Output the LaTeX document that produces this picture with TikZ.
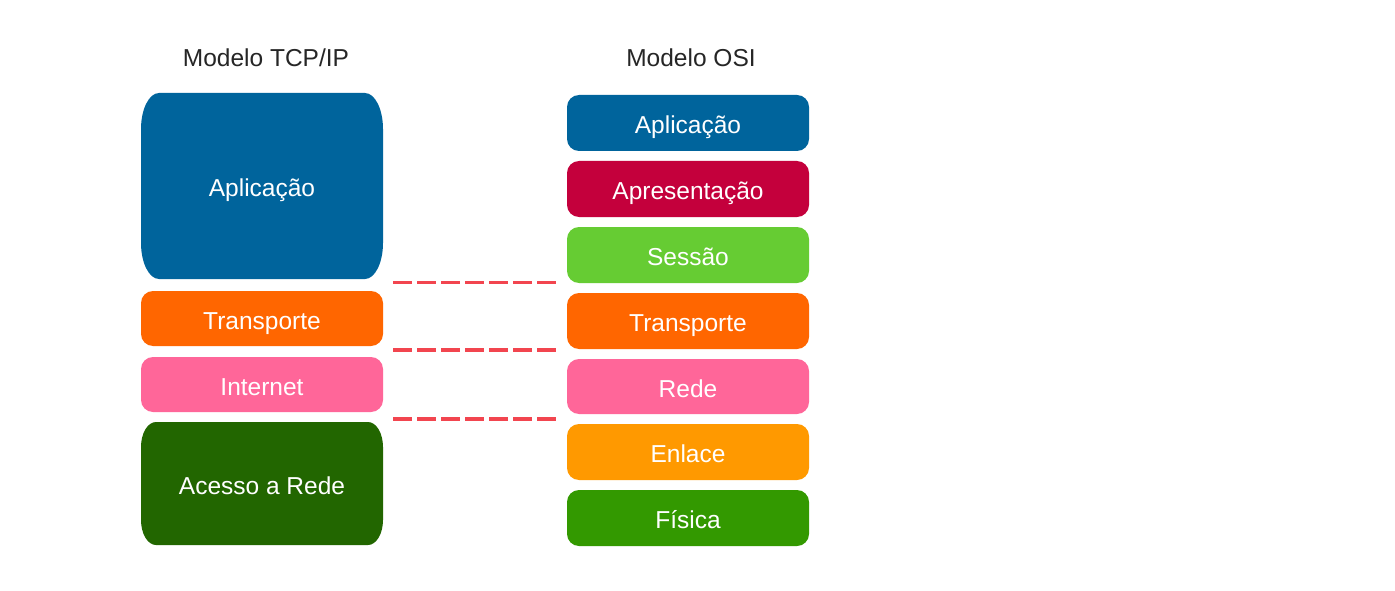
\documentclass[tikz,border=0pt]{standalone}
\usepackage{fontspec}
\setmainfont{Liberation Sans}
\definecolor{cblue}{HTML}{00649C}
\definecolor{ccrimson}{HTML}{C4003C}
\definecolor{clgreen}{HTML}{66CC33}
\definecolor{corange}{HTML}{FF6600}
\definecolor{cpink}{HTML}{FF6699}
\definecolor{camber}{HTML}{FF9900}
\definecolor{cgreen}{HTML}{339900}
\definecolor{cdgreen}{HTML}{226600}
\definecolor{cdash}{HTML}{F2454F}
\definecolor{ctitle}{HTML}{262626}
\begin{document}
\begin{tikzpicture}[x=1pt,y=-1pt,
  lbl/.style={text=white, inner sep=0pt, text height=21pt, text depth=0pt,
              font=\fontsize{24.5}{29}\selectfont},
  layer/.style={lbl, rounded corners=12pt, minimum width=242pt, minimum height=56pt},
  ttl/.style={text=ctitle, inner sep=0pt, text height=17.5pt, text depth=0pt,
              font=\fontsize{24.5}{29}\selectfont},
  link/.style={draw=cdash, line width=3.5pt, dash pattern=on 19pt off 5pt}]
\useasboundingbox (0,0) rectangle (1395,591);
\fill[white] (0,0) rectangle (1395,591);

% titles
\node[ttl] (tcptitle) at (266,57.5) {Modelo TCP/IP};
\node[ttl] (osititle) at (691,57.5) {Modelo OSI};

% TCP/IP column
\fill[cblue] (159,93) -- (365,93)
  arc[start angle=-90, end angle=0, x radius=18, y radius=36]
  -- (383,243)
  arc[start angle=0, end angle=90, x radius=18, y radius=36]
  -- (159,279)
  arc[start angle=90, end angle=180, x radius=18, y radius=36]
  -- (141,129)
  arc[start angle=180, end angle=270, x radius=18, y radius=36]
  -- cycle;
\node[lbl] (tcpapp) at (262,186) {Aplicação};

\node[layer, fill=corange, minimum height=55pt] (tcptra) at (262,318.5) {Transporte};
\node[layer, fill=cpink, minimum height=55pt] (tcpint) at (262,384.5) {Internet};

\fill[cdgreen] (156,422) -- (368,422)
  arc[start angle=-90, end angle=0, x radius=15, y radius=25]
  -- (383,520)
  arc[start angle=0, end angle=90, x radius=15, y radius=25]
  -- (156,545)
  arc[start angle=90, end angle=180, x radius=15, y radius=25]
  -- (141,447)
  arc[start angle=180, end angle=270, x radius=15, y radius=25]
  -- cycle;
\node[lbl] (tcpacc) at (262,484) {Acesso a Rede};

% OSI column
\node[layer, fill=cblue]    (osiapp) at (688,123) {Aplicação};
\node[layer, fill=ccrimson] (osiapr) at (688,189) {Apresentação};
\node[layer, fill=clgreen]  (osises) at (688,255) {Sessão};
\node[layer, fill=corange]  (ositra) at (688,321) {Transporte};
\node[layer, fill=cpink, minimum height=55pt] (osired) at (688,386.5) {Rede};
\node[layer, fill=camber]   (osienl) at (688,452) {Enlace};
\node[layer, fill=cgreen]   (osifis) at (688,518) {Física};

% dashed correspondence lines
\coordinate (d1a) at (393,282.5);
\coordinate (d1b) at (556,282.5);
\coordinate (d2a) at (393,350);
\coordinate (d2b) at (556,350);
\coordinate (d3a) at (393,419);
\coordinate (d3b) at (556,419);
\draw[link] (d1a) -- (d1b);
\draw[link] (d2a) -- (d2b);
\draw[link] (d3a) -- (d3b);
\end{tikzpicture}
\end{document}
